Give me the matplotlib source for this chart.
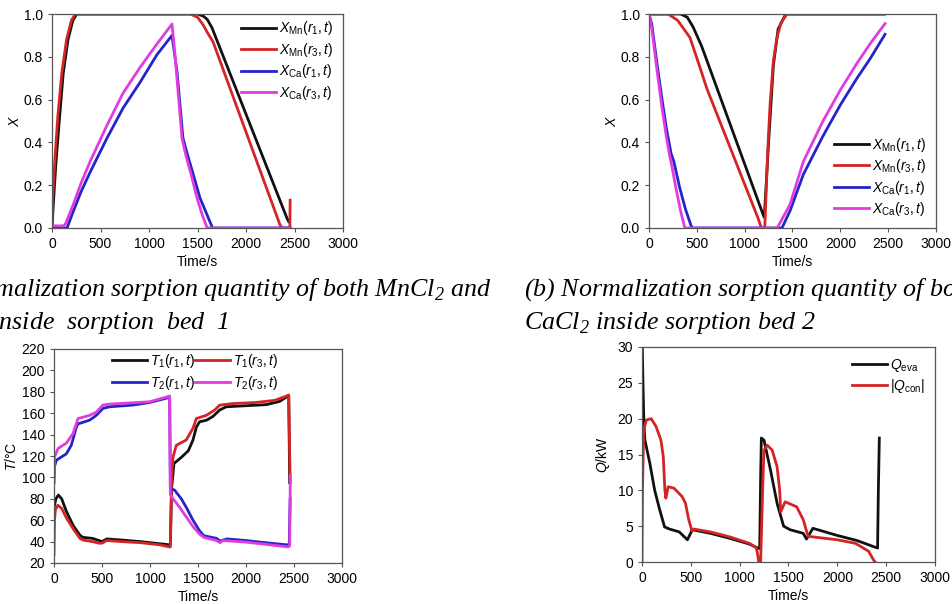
import matplotlib
matplotlib.use("Agg")
import matplotlib.pyplot as plt
from matplotlib.ticker import FormatStrFormatter

plt.rcParams['font.family'] = ['Liberation Sans', 'DejaVu Sans']
plt.rcParams['mathtext.fontset'] = 'custom'
plt.rcParams['mathtext.it'] = 'Liberation Sans:italic'
plt.rcParams['mathtext.rm'] = 'Liberation Sans'
plt.rcParams['mathtext.sf'] = 'Liberation Sans'

BLACK = '#111111'
RED = '#d42424'
BLUE = '#2424c8'
MAGENTA = '#e03ce0'

# (a) bed 1, normalised sorption quantity
a_mn1_t = [0, 15, 40, 75, 115, 165, 215, 255, 1500, 1560, 1600, 1650, 2423, 2440]
a_mn1_x = [0, 0.12, 0.3, 0.5, 0.72, 0.88, 0.97, 1.0, 1.0, 0.99, 0.975, 0.935, 0.045, 0.03]
a_mn3_t = [0, 8, 30, 60, 100, 150, 200, 240, 1426, 1500, 1557, 1600, 1660, 2351, 2375, 2452, 2455]
a_mn3_x = [0, 0.15, 0.32, 0.52, 0.72, 0.88, 0.97, 1.0, 1.0, 0.985, 0.95, 0.915, 0.87, 0.014, 0, 0, 0.13]
a_ca1_t = [0, 155, 217, 300, 392, 567, 732, 907, 1082, 1237, 1289, 1350, 1392, 1450, 1526, 1600, 1655, 2460]
a_ca1_x = [0, 0, 0.075, 0.17, 0.26, 0.42, 0.56, 0.68, 0.81, 0.90, 0.73, 0.42, 0.35, 0.26, 0.14, 0.06, 0, 0]
a_ca3_t = [0, 120, 140, 217, 300, 392, 567, 732, 907, 1082, 1237, 1268, 1340, 1380, 1440, 1495, 1550, 1600, 2460]
a_ca3_x = [0.01, 0.01, 0.02, 0.107, 0.21, 0.31, 0.48, 0.63, 0.75, 0.86, 0.953, 0.81, 0.42, 0.34, 0.24, 0.14, 0.06, 0, 0]

# (b) bed 2
b_mn1_t = [0, 330, 400, 460, 550, 1195, 1205, 1250, 1300, 1350, 1430, 2460]
b_mn1_x = [1, 1, 0.985, 0.94, 0.85, 0.06, 0.05, 0.40, 0.76, 0.93, 1, 1]
b_mn3_t = [0, 200, 300, 428, 533, 606, 1139, 1175, 1210, 1240, 1265, 1300, 1338, 1380, 1442, 2460]
b_mn3_x = [1, 1, 0.97, 0.89, 0.75, 0.65, 0.047, 0, 0, 0.35, 0.575, 0.78, 0.89, 0.96, 1, 1]
b_ca1_t = [0, 30, 80, 130, 180, 230, 260, 320, 380, 440, 455, 1390, 1474, 1613, 1819, 2000, 2174, 2310, 2467]
b_ca1_x = [1, 0.95, 0.78, 0.62, 0.47, 0.35, 0.31, 0.19, 0.09, 0.01, 0, 0, 0.08, 0.25, 0.43, 0.575, 0.70, 0.79, 0.905]
b_ca3_t = [0, 30, 80, 130, 180, 215, 230, 280, 330, 375, 1340, 1474, 1613, 1819, 2000, 2174, 2310, 2467]
b_ca3_x = [1, 0.93, 0.75, 0.58, 0.43, 0.34, 0.31, 0.19, 0.08, 0, 0, 0.11, 0.31, 0.50, 0.645, 0.77, 0.86, 0.955]

# (c) temperatures
c_t1r1_t = [0, 20, 45, 80, 130, 200, 270, 300, 400, 470, 500, 550, 700, 900, 1100, 1205, 1212,
            1225, 1250, 1330, 1400, 1448, 1483, 1517, 1590, 1656, 1726, 1795, 2000, 2212, 2350,
            2420, 2445, 2455]
c_t1r1 = [72, 80, 83.5, 80, 68, 55, 46, 44, 43, 41, 40, 42.5, 41.5, 40, 38, 37, 37,
          90, 113, 119, 125, 135, 147, 152, 153.5, 157, 163, 166, 167, 168, 171,
          175, 176, 95]
c_t1r3_t = [0, 5, 15, 40, 80, 130, 200, 270, 300, 400, 470, 500, 550, 700, 900, 1100, 1205, 1212,
            1225, 1240, 1274, 1378, 1448, 1483, 1587, 1674, 1726, 1865, 2100, 2300, 2420, 2445, 2460]
c_t1r3 = [28, 60, 70, 74, 71, 62, 52, 43, 41.5, 40, 38.5, 38.5, 41, 40, 39, 37, 35, 35,
          100, 119, 130, 135, 146, 155, 158, 163, 167.5, 169, 170, 172, 176, 177, 95]
c_t2r1_t = [0, 5, 24, 128, 180, 233, 250, 371, 441, 510, 580, 823, 996, 1170, 1205,
            1212, 1257, 1326, 1378, 1448, 1517, 1560, 1695, 1729, 1799, 2000, 2200, 2424, 2450, 2460]
c_t2r1 = [95, 110, 116, 122, 130, 147, 150, 153.5, 158, 164.5, 166, 167.6, 170, 174, 175,
          90, 88, 80, 72, 60, 50, 45.5, 43, 40.5, 42.5, 41, 39, 37, 37, 80]
c_t2r3_t = [0, 5, 42, 128, 198, 250, 371, 441, 510, 580, 996, 1205,
            1212, 1240, 1309, 1378, 1448, 1517, 1560, 1695, 1729, 1760, 2000, 2200, 2440, 2455, 2462]
c_t2r3 = [100, 119, 127, 132, 141, 155, 158, 161, 167.6, 168.5, 170.7, 176,
          84, 80, 72, 63, 54, 47, 44, 41, 39, 41, 39.5, 37.5, 35, 36, 102]

# (d) evaporator / condenser power
d_eva_t = [3, 10, 20, 30, 80, 130, 181, 231, 281, 381, 465, 515, 700, 900, 1100, 1190, 1205,
           1215, 1222, 1249, 1316, 1383, 1450, 1517, 1651, 1684, 1750, 2000, 2200, 2400, 2412, 2420, 2430]
d_eva = [30, 25, 19, 17, 13.8, 10, 7.3, 4.9, 4.6, 4.2, 3.1, 4.5, 4.0, 3.3, 2.5, 1.9, 1.9,
         12, 17.3, 17, 12.8, 8.2, 5, 4.5, 4.0, 3.2, 4.7, 3.7, 3.0, 2.0, 1.95, 10, 17.3]
d_con_t = [0, 5, 17, 44, 94, 144, 194, 218, 234, 244, 268, 328, 412, 445, 479, 512, 530, 700, 900,
           1100, 1170, 1185, 1195, 1215, 1235, 1249, 1282, 1333, 1383, 1410, 1420, 1466, 1584, 1651,
           1700, 1751, 2000, 2186, 2320, 2370, 2387]
d_con = [0, 10, 18.4, 19.8, 20, 18.9, 17, 14.7, 10.1, 8.9, 10.5, 10.3, 9.1, 8.2, 5.9, 4.3, 4.6, 4.2, 3.5,
         2.6, 2.0, 1.0, 0, 0, 10, 15.6, 16.3, 15.6, 13.3, 10, 7, 8.4, 7.7, 5.9,
         3.6, 3.5, 3.1, 2.6, 1.5, 0.3, 0]

x_ticks = [0, 500, 1000, 1500, 2000, 2500, 3000]
W, H = 953, 604
LW = 2.0
FS = 10


def make_axes(fig, left, top, right, bottom):
    ax = fig.add_axes([left / W, 1 - bottom / H, (right - left) / W, (bottom - top) / H])
    for s in ax.spines.values():
        s.set_color('#555555')
        s.set_linewidth(0.9)
    ax.tick_params(direction='out', length=3, width=0.8, color='#555555', labelsize=FS)
    ax.set_xlim(0, 3000)
    ax.set_xticks(x_ticks)
    ax.set_xlabel('Time/s', fontsize=FS, labelpad=3)
    return ax


def legend(ax, **kw):
    return ax.legend(frameon=False, fontsize=FS, handlelength=2.5, handletextpad=0.25,
                     labelspacing=0.25, borderaxespad=0.3, **kw)


fig = plt.figure(figsize=(W / 100, H / 100), dpi=100)

ax = make_axes(fig, 52, 14, 343, 228)
ax.plot(a_mn1_t, a_mn1_x, color=BLACK, lw=LW, label=r'$X_{\mathrm{Mn}}(r_1,t)$')
ax.plot(a_mn3_t, a_mn3_x, color=RED, lw=LW, label=r'$X_{\mathrm{Mn}}(r_3,t)$')
ax.plot(a_ca1_t, a_ca1_x, color=BLUE, lw=LW, label=r'$X_{\mathrm{Ca}}(r_1,t)$')
ax.plot(a_ca3_t, a_ca3_x, color=MAGENTA, lw=LW, label=r'$X_{\mathrm{Ca}}(r_3,t)$')
ax.set_ylim(0, 1)
ax.set_yticks([0, 0.2, 0.4, 0.6, 0.8, 1.0])
ax.yaxis.set_major_formatter(FormatStrFormatter('%.1f'))
ax.set_ylabel(r'$X$', fontsize=FS, labelpad=1)
legend(ax, loc='upper right', bbox_to_anchor=(1.0, 1.02))

ax = make_axes(fig, 649, 14, 936, 228)
ax.plot(b_mn1_t, b_mn1_x, color=BLACK, lw=LW, label=r'$X_{\mathrm{Mn}}(r_1,t)$')
ax.plot(b_mn3_t, b_mn3_x, color=RED, lw=LW, label=r'$X_{\mathrm{Mn}}(r_3,t)$')
ax.plot(b_ca1_t, b_ca1_x, color=BLUE, lw=LW, label=r'$X_{\mathrm{Ca}}(r_1,t)$')
ax.plot(b_ca3_t, b_ca3_x, color=MAGENTA, lw=LW, label=r'$X_{\mathrm{Ca}}(r_3,t)$')
ax.set_ylim(0, 1)
ax.set_yticks([0, 0.2, 0.4, 0.6, 0.8, 1.0])
ax.yaxis.set_major_formatter(FormatStrFormatter('%.1f'))
ax.set_ylabel(r'$X$', fontsize=FS, labelpad=1)
legend(ax, loc='lower right')

ax = make_axes(fig, 54, 349, 342, 563)
l1, = ax.plot(c_t1r1_t, c_t1r1, color=BLACK, lw=LW, label=r'$T_1(r_1,t)$')
l2, = ax.plot(c_t1r3_t, c_t1r3, color=RED, lw=LW, label=r'$T_1(r_3,t)$')
l3, = ax.plot(c_t2r1_t, c_t2r1, color=BLUE, lw=LW, label=r'$T_2(r_1,t)$')
l4, = ax.plot(c_t2r3_t, c_t2r3, color=MAGENTA, lw=LW, label=r'$T_2(r_3,t)$')
ax.set_ylim(20, 220)
ax.set_yticks(range(20, 221, 20))
ax.set_ylabel(r'$T$/°C', fontsize=FS, labelpad=2)
legend(ax, handles=[l1, l3, l2, l4], loc='upper center', ncol=2, columnspacing=0.0,
       bbox_to_anchor=(0.49, 1.03))

ax = make_axes(fig, 642, 347, 935, 562)
ax.plot(d_eva_t, d_eva, color=BLACK, lw=LW, label=r'$Q_{\mathrm{eva}}$')
ax.plot(d_con_t, d_con, color=RED, lw=LW, label=r'$|Q_{\mathrm{con}}|$')
ax.set_ylim(0, 30)
ax.set_yticks(range(0, 31, 5))
ax.set_ylabel(r'$Q$/kW', fontsize=FS, labelpad=4)
legend(ax, loc='upper right')

cap = dict(family='Liberation Serif', style='italic', fontsize=18.7, ha='left', va='baseline')
fig.text(-83 / W, 1 - 296 / H, r'(a) Normalization sorption quantity of both MnCl$_\mathregular{2}$ and', **cap)
fig.text(-80 / W, 1 - 329 / H, r'CaCl$_\mathregular{2}$ inside  sorption  bed  1', **cap)
fig.text(524 / W, 1 - 296 / H, r'(b) Normalization sorption quantity of both MnCl$_\mathregular{2}$ and', **cap)
fig.text(524 / W, 1 - 329 / H, r'CaCl$_\mathregular{2}$ inside sorption bed 2', **cap)

fig.savefig('out.png', dpi=100)
